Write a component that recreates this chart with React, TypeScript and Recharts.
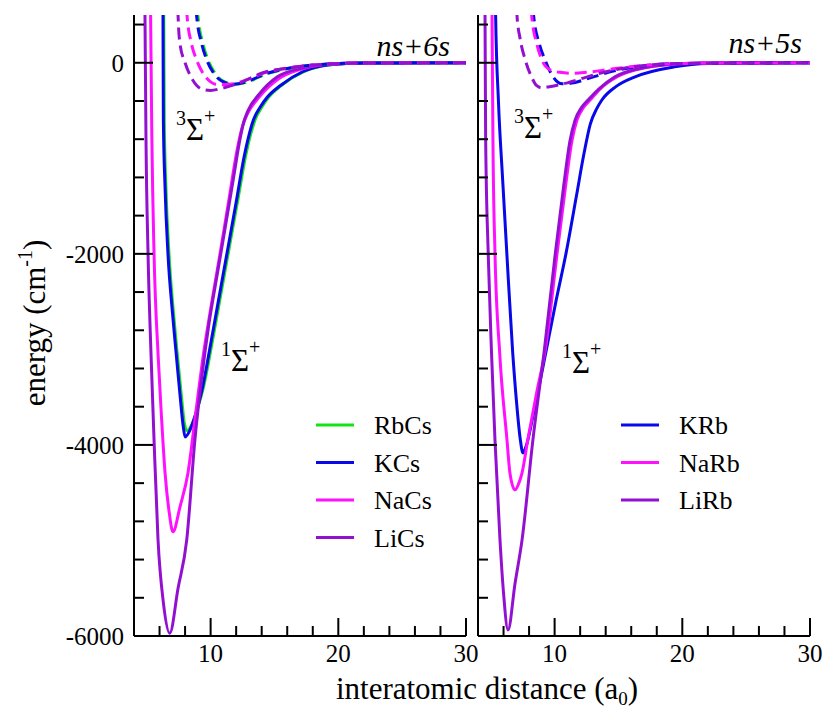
import React from 'react';
import { LineChart, Line, XAxis, YAxis } from 'recharts';

type Pt = [number, number];

// ns+6s panel (Cs molecules), singlet (solid) and triplet (dashed), [r (a0), energy (cm-1)]
const rbcsSinglet: Pt[] = [
  [6.25, 1500], [6.33, 500], [6.37, -600], [6.5, -1300], [6.74, -2000], [7.08, -2600], [7.38, -3040],
  [7.72, -3500], [7.95, -3780], [8.15, -3850], [8.55, -3780], [8.95, -3630], [9.45, -3390],
  [10.05, -2980], [10.75, -2460], [11.45, -1940], [12.15, -1420], [12.75, -970], [13.15, -740],
  [13.5, -590], [14.05, -455], [14.55, -360], [15.6, -230], [17.3, -92], [19.4, -20], [22, -3], [30, 0],
];
const kcsSinglet: Pt[] = [
  [6.2, 1500], [6.27, 500], [6.3, -600], [6.43, -1300], [6.66, -2000], [7.0, -2600], [7.3, -3040],
  [7.62, -3500], [7.85, -3800], [8.0, -3916], [8.4, -3840], [8.8, -3690], [9.3, -3440], [9.9, -3020],
  [10.6, -2500], [11.3, -1980], [12.0, -1460], [12.6, -1000], [13.0, -760], [13.35, -600],
  [13.9, -460], [14.4, -366], [15.5, -235], [17.2, -94], [19.3, -21], [22, -3], [30, 0],
];
const nacsSinglet: Pt[] = [
  [5.25, 1500], [5.3, 500], [5.4, -800], [5.57, -2000], [5.88, -3040], [6.15, -3700], [6.43, -4290],
  [6.75, -4700], [7.05, -4910], [7.6, -4650], [8.23, -4290], [8.85, -3650], [9.45, -3040],
  [10.1, -2500], [10.8, -1950], [11.45, -1420], [12.05, -930], [12.5, -660], [12.9, -530],
  [13.8, -360], [15.3, -170], [17, -70], [19, -18], [22, -2], [30, 0],
];
const licsSinglet: Pt[] = [
  [4.8, 1500], [4.86, 500], [4.94, -800], [5.1, -2000], [5.33, -3040], [5.57, -3950], [5.88, -4990],
  [6.3, -5650], [6.8, -5970], [7.45, -5500], [8.13, -4994], [8.77, -3947], [9.3, -3300],
  [9.85, -2750], [10.5, -2230], [11.15, -1720], [11.8, -1200], [12.3, -800], [12.6, -620],
  [12.93, -500], [13.8, -330], [15.2, -150], [17, -60], [19, -15], [22, -2], [30, 0],
];
const rbcsTriplet: Pt[] = [
  [8.85, 1500], [9.0, 500], [9.4, 200], [9.8, 30], [10.4, -120], [11.1, -200], [11.9, -225],
  [12.9, -200], [14.3, -120], [16.3, -55], [19, -15], [22, -3], [30, 0],
];
const kcsTriplet: Pt[] = [
  [8.75, 1500], [8.9, 500], [9.3, 200], [9.7, 30], [10.3, -120], [11.0, -200], [11.8, -225],
  [12.8, -200], [14.2, -120], [16.2, -55], [19, -15], [22, -3], [30, 0],
];
const nacsTriplet: Pt[] = [
  [8.0, 1500], [8.15, 500], [8.5, 200], [8.9, 30], [9.5, -130], [10.0, -200], [10.6, -230],
  [11.5, -225], [12.8, -180], [14.2, -105], [16.2, -52], [19, -15], [22, -3], [30, 0],
];
const licsTriplet: Pt[] = [
  [7.3, 1500], [7.45, 500], [7.6, 200], [8.0, 0], [8.6, -180], [9.3, -275], [10.0, -290],
  [10.8, -270], [12.1, -220], [14.1, -105], [16.2, -52], [19, -15], [22, -3], [30, 0],
];

// ns+5s panel (Rb molecules)
const krbSinglet: Pt[] = [
  [5.3, 1500], [5.38, 500], [5.6, -400], [5.92, -1200], [6.26, -2000], [6.72, -3040], [7.05, -3600],
  [7.3, -3930], [7.52, -4084], [7.8, -4000], [8.3, -3700], [9.3, -3040], [10.1, -2500],
  [10.9, -1990], [11.7, -1400], [12.3, -950], [12.8, -640], [13.3, -480], [13.7, -390],
  [14.8, -250], [16.3, -147], [19.4, -42], [22, -8], [30, 0],
];
const narbSinglet: Pt[] = [
  [5.05, 1500], [5.1, 500], [5.17, -800], [5.33, -1990], [5.7, -3040], [6.27, -3947], [6.5, -4293],
  [6.9, -4470], [7.2, -4400], [7.45, -4293], [7.9, -3947], [8.6, -3450], [9.3, -2980],
  [10.2, -1990], [10.85, -1300], [11.35, -820], [11.75, -600], [12.25, -470], [12.8, -387],
  [13.6, -270], [14.9, -147], [17.2, -50], [19.5, -12], [22, -2], [30, 0],
];
const lirbSinglet: Pt[] = [
  [4.5, 1500], [4.55, 500], [4.6, -800], [4.8, -2000], [5.06, -3040], [5.33, -3950], [5.72, -4990],
  [6.0, -5550], [6.35, -5937], [6.9, -5450], [7.45, -4994], [8.3, -3947], [9.2, -3000],
  [10.05, -2000], [10.7, -1300], [11.2, -820], [11.6, -600], [12.1, -470], [12.64, -387],
  [13.5, -270], [14.73, -147], [17, -50], [19.4, -12], [22, -2], [30, 0],
];
const krbTriplet: Pt[] = [
  [8.2, 1500], [8.35, 500], [8.8, 200], [9.25, 30], [9.8, -130], [10.6, -220], [11.5, -210],
  [12.5, -170], [14.5, -90], [17, -32], [20, -8], [30, 0],
];
const narbTriplet: Pt[] = [
  [8.05, 1500], [8.2, 500], [8.6, 200], [9.0, 30], [9.6, -70], [10.4, -100], [11.4, -110],
  [12.5, -100], [14.5, -65], [17, -28], [20, -8], [30, 0],
];
const lirbTriplet: Pt[] = [
  [6.9, 1500], [7.05, 500], [7.3, 250], [7.7, 30], [8.2, -150], [8.6, -240], [9.0, -262],
  [9.6, -250], [11.0, -210], [12.5, -150], [14.5, -80], [17, -30], [20, -8], [30, 0],
];

const xTicks = [4, 6, 8, 10, 12, 14, 16, 18, 20, 22, 24, 26, 28, 30];
const xLabels = [10, 20, 30];
const yTicks = [
  -6000, -5600, -5200, -4800, -4400, -4000, -3600, -3200, -2800, -2400, -2000,
  -1600, -1200, -800, -400, 0, 400,
];
const yLabels = [-6000, -4000, -2000, 0];

const GREEN = '#14e414';
const BLUE = '#0808e8';
const MAGENTA = '#ff10ff';
const VIOLET = '#9410d0';

const csSeries = [
  { name: 'RbCs', color: GREEN, singlet: rbcsSinglet, triplet: rbcsTriplet },
  { name: 'KCs', color: BLUE, singlet: kcsSinglet, triplet: kcsTriplet },
  { name: 'NaCs', color: MAGENTA, singlet: nacsSinglet, triplet: nacsTriplet },
  { name: 'LiCs', color: VIOLET, singlet: licsSinglet, triplet: licsTriplet },
];
const rbSeries = [
  { name: 'KRb', color: BLUE, singlet: krbSinglet, triplet: krbTriplet },
  { name: 'NaRb', color: MAGENTA, singlet: narbSinglet, triplet: narbTriplet },
  { name: 'LiRb', color: VIOLET, singlet: lirbSinglet, triplet: lirbTriplet },
];

const FONT = 'Liberation Serif, DejaVu Serif, serif';
const PLOT_W = 332;

const rows = (pts: Pt[]) => pts.map(([r, e]) => ({ r, e }));

const XTick = (props: any) => {
  const { x, y, payload } = props;
  const major = xLabels.includes(payload.value);
  return (
    <g>
      <line x1={x} x2={x} y1={y} y2={y - (major ? 18 : 10)} stroke="#000" strokeWidth={2} />
      {major && (
        <text x={x} y={y + 26} textAnchor="middle" fontSize={25} style={{ fontFamily: FONT }} fill="#000">
          {payload.value}
        </text>
      )}
    </g>
  );
};

const makeYTick = (showLabel: boolean) => (props: any) => {
  const { x, y, payload } = props;
  const major = yLabels.includes(payload.value);
  return (
    <g>
      <line x1={x} x2={x + (major ? 19 : 10)} y1={y} y2={y} stroke="#000" strokeWidth={2} />
      {showLabel && major && (
        <text x={x - 10} y={y + 9} textAnchor="end" fontSize={25} style={{ fontFamily: FONT }} fill="#000">
          {payload.value}
        </text>
      )}
    </g>
  );
};

function Panel({ plotLeft, series, showYLabels }: { plotLeft: number; series: typeof csSeries; showYLabels: boolean }) {
  return (
    <div style={{ position: 'absolute', left: 0, top: 0 }}>
      <LineChart
        width={824}
        height={712}
        margin={{ top: 15, left: plotLeft - 60, right: 824 - plotLeft - PLOT_W, bottom: 36 }}
      >
        <XAxis
          type="number"
          dataKey="r"
          domain={[4, 30]}
          ticks={xTicks}
          interval={0}
          allowDataOverflow
          height={40}
          tickSize={0}
          tickMargin={0}
          tickLine={false}
          axisLine={{ stroke: '#000', strokeWidth: 2 }}
          tick={XTick}
        />
        <YAxis
          type="number"
          dataKey="e"
          domain={[-6000, 500]}
          ticks={yTicks}
          interval={0}
          allowDataOverflow
          width={60}
          tickSize={0}
          tickMargin={0}
          tickLine={false}
          axisLine={{ stroke: '#000', strokeWidth: 2 }}
          tick={makeYTick(showYLabels)}
        />
        {series.map((s) => (
          <Line
            key={s.name + '-s'}
            data={rows(s.singlet)}
            dataKey="e"
            type="monotone"
            stroke={s.color}
            strokeWidth={3}
            dot={false}
            isAnimationActive={false}
          />
        ))}
        {series.map((s) => (
          <Line
            key={s.name + '-t'}
            data={rows(s.triplet)}
            dataKey="e"
            type="monotone"
            stroke={s.color}
            strokeWidth={3}
            strokeDasharray="12 6"
            dot={false}
            isAnimationActive={false}
          />
        ))}
      </LineChart>
    </div>
  );
}

function Sigma({ x, y, mult }: { x: number; y: number; mult: string }) {
  return (
    <text x={x} y={y} fill="#000" fontSize={31}>
      <tspan fontSize={20} dy={-15}>{mult}</tspan>
      <tspan dy={15}>Σ</tspan>
      <tspan fontSize={20} dy={-17}>+</tspan>
    </text>
  );
}

function LegendBox({ x, y, series }: { x: number; y: number; series: typeof csSeries }) {
  return (
    <g>
      {series.map((s, i) => (
        <g key={s.name}>
          <line x1={x} x2={x + 38} y1={y + i * 37.5} y2={y + i * 37.5} stroke={s.color} strokeWidth={3} />
          <text x={x + 58} y={y + i * 37.5 + 9} fontSize={26} fill="#000">
            {s.name}
          </text>
        </g>
      ))}
    </g>
  );
}

export default function App() {
  return (
    <div style={{ position: 'absolute', left: 0, top: 0, width: 824, height: 712, background: '#fff' }}>
      <Panel plotLeft={134} series={csSeries} showYLabels />
      <Panel plotLeft={478} series={rbSeries} showYLabels={false} />
      <svg
        width={824}
        height={712}
        style={{ position: 'absolute', left: 0, top: 0, pointerEvents: 'none', fontFamily: FONT }}
      >
        <text x={450} y={56} textAnchor="end" fontStyle="italic" fontSize={30}>
          ns+6s
        </text>
        <text x={802} y={53} textAnchor="end" fontStyle="italic" fontSize={30}>
          ns+5s
        </text>
        <Sigma x={176} y={140} mult="3" />
        <Sigma x={221} y={371} mult="1" />
        <Sigma x={514} y={138} mult="3" />
        <Sigma x={562} y={373} mult="1" />
        <LegendBox x={316} y={425} series={csSeries} />
        <LegendBox x={621} y={425} series={rbSeries} />
        <text transform="translate(45,323) rotate(-90)" textAnchor="middle" fontSize={31}>
          energy (cm<tspan fontSize={20} dy={-13}>-1</tspan>
          <tspan dy={13}>)</tspan>
        </text>
        <text x={487} y={699} textAnchor="middle" fontSize={31}>
          interatomic distance (a<tspan fontSize={19} dy={6}>0</tspan>
          <tspan dy={-6}>)</tspan>
        </text>
      </svg>
    </div>
  );
}
